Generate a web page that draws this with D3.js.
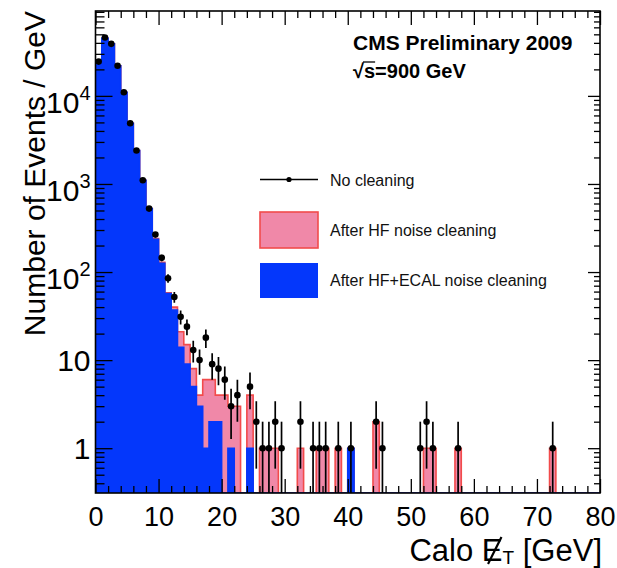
<!DOCTYPE html>
<html>
<head>
<meta charset="utf-8">
<script src="https://cdn.jsdelivr.net/npm/d3@7"></script>
<style>
  body { margin: 0; background: #fff; }
  text { font-family: "Liberation Sans", Arial, Helvetica, sans-serif; }
</style>
</head>
<body>
<div id="chart"></div>
<script>
// 1 GeV bins from 0 to 80 GeV (lower edges)
const binLow = d3.range(0, 80);

// events / GeV
const noCleaning = [
  24500, 46000, 39000, 22000, 11000, 4900, 2400, 1100, 525, 266,
  145, 85, 52, 31, 24, 13, 10, 18, 9, 8,
  6, 3, 4, 0, 5, 2, 1, 1, 2, 1,
  0, 0, 2, 0, 1, 1, 1, 0, 1, 0,
  1, 0, 0, 0, 2, 1, 0, 0, 0, 0,
  0, 1, 2, 1, 0, 0, 0, 1, 0, 0,
  0, 0, 0, 0, 0, 0, 0, 0, 0, 0,
  0, 0, 1, 0, 0, 0, 0, 0, 0, 0
];
const afterHF = [
  24500, 45000, 39000, 22000, 11000, 4900, 2400, 1100, 525, 240,
  129, 58, 40, 21, 15, 8, 4, 6, 6, 4,
  4, 3, 3, 0, 4, 0, 1, 1, 1, 0,
  0, 0, 1, 0, 0, 1, 1, 0, 1, 0,
  1, 0, 0, 0, 2, 0, 0, 0, 0, 0,
  0, 0, 1, 1, 0, 0, 0, 1, 0, 0,
  0, 0, 0, 0, 0, 0, 0, 0, 0, 0,
  0, 0, 1, 0, 0, 0, 0, 0, 0, 0
];
const afterHFECAL = [
  24500, 45000, 39000, 22000, 11000, 4900, 2400, 1100, 525, 235,
  126, 57, 37, 14, 9, 5, 3, 1, 2, 2,
  0, 1, 0, 0, 1, 0, 0, 0, 0, 0,
  0, 0, 0, 0, 0, 0, 0, 0, 0, 0,
  1, 0, 0, 0, 0, 0, 0, 0, 0, 0,
  0, 0, 0, 0, 0, 0, 0, 0, 0, 0,
  0, 0, 0, 0, 0, 0, 0, 0, 0, 0,
  0, 0, 0, 0, 0, 0, 0, 0, 0, 0
];

const xTicks = [0, 10, 20, 30, 40, 50, 60, 70, 80];
const yTicks = [1, 10, 100, 1000, 10000];
const yTickLabels = [["1", ""], ["10", ""], ["10", "2"], ["10", "3"], ["10", "4"]];

const legendItems = ["No cleaning", "After HF noise cleaning", "After HF+ECAL noise cleaning"];

// dimensions
const dim = {
  width: 504.5,
  height: 482,
  margin: { top: 11, right: 17, bottom: 75, left: 95.5 }
};
const yMin = 0.31, yMax = 92000;

const colors = {
  pink: "#f088a8",
  red: "#f24b4b",
  blue: "#0437fb"
};

const root = d3.select("#chart")
  .append("svg")
    .attr("width", dim.width + dim.margin.left + dim.margin.right)
    .attr("height", dim.height + dim.margin.top + dim.margin.bottom);

const svg = root.append("g")
  .attr("transform", `translate(${dim.margin.left}, ${dim.margin.top})`);

// scales
const xScale = d3.scaleLinear().domain([0, 80]).range([0, dim.width]);
const yScale = d3.scaleLog().domain([yMin, yMax]).range([dim.height, 0]);
const yv = v => yScale(v > 0 ? Math.max(v, yMin) : yMin);

svg.append("clipPath").attr("id", "plot-clip")
  .append("rect").attr("width", dim.width).attr("height", dim.height);

const plot = svg.append("g").attr("clip-path", "url(#plot-clip)");

// histogram steps
function steps(values) {
  const pts = binLow.map((b, i) => ({ x: b, v: values[i] }));
  pts.push({ x: 80, v: values[values.length - 1] });
  return pts;
}
const area = d3.area().curve(d3.curveStepAfter)
  .x(d => xScale(d.x)).y0(dim.height).y1(d => yv(d.v));
const outline = d3.line().curve(d3.curveStepAfter)
  .x(d => xScale(d.x)).y(d => yv(d.v));

plot.append("path").datum(steps(afterHF))
  .attr("d", area).attr("fill", colors.pink);
plot.append("path").datum(steps(afterHF))
  .attr("d", outline).attr("fill", "none")
  .attr("stroke", colors.red).attr("stroke-width", 1.6);

plot.append("path").datum(steps(afterHFECAL))
  .attr("d", area).attr("fill", colors.blue);
plot.append("path").datum(steps(afterHFECAL))
  .attr("d", outline).attr("fill", "none")
  .attr("stroke", colors.blue).attr("stroke-width", 1.6);

// data points with sqrt(N) errors
const pts = binLow.map((b, i) => ({ x: b + 0.5, v: noCleaning[i] })).filter(d => d.v > 0);

plot.append("g").selectAll("line")
  .data(pts)
  .join("line")
    .attr("x1", d => xScale(d.x)).attr("x2", d => xScale(d.x))
    .attr("y1", d => yv(d.v - Math.sqrt(d.v)))
    .attr("y2", d => yv(d.v + Math.sqrt(d.v)))
    .attr("stroke", "#000").attr("stroke-width", 1.7);

plot.append("g").selectAll("circle")
  .data(pts)
  .join("circle")
    .attr("cx", d => xScale(d.x)).attr("cy", d => yv(d.v))
    .attr("r", 3.3).attr("fill", "#000");

// axes
const minorX = d3.range(0, 81, 2).filter(d => d % 10 !== 0);
const minorY = [];
[-1, 0, 1, 2, 3, 4].forEach(p => {
  for (let m = 2; m <= 9; m++) {
    const v = m * Math.pow(10, p);
    if (v > yMin && v < yMax) minorY.push(v);
  }
});

function tidy(g) {
  g.select(".domain").remove();
  g.selectAll(".tick line").attr("stroke", "#000").attr("stroke-width", 1.3);
}

svg.append("g")
  .attr("transform", `translate(0, ${dim.height})`)
  .call(d3.axisBottom(xScale).tickValues(xTicks).tickSize(-14).tickPadding(14).tickFormat(d3.format("d")))
  .call(tidy)
  .call(g => g.selectAll("text").attr("font-size", 27).attr("fill", "#000")
    .attr("font-family", "'Liberation Sans', Arial, sans-serif"));

svg.append("g")
  .attr("transform", `translate(0, ${dim.height})`)
  .call(d3.axisBottom(xScale).tickValues(minorX).tickSize(-7).tickFormat(""))
  .call(tidy);

svg.append("g")
  .call(d3.axisTop(xScale).tickValues(xTicks).tickSize(-14).tickFormat(""))
  .call(tidy);
svg.append("g")
  .call(d3.axisTop(xScale).tickValues(minorX).tickSize(-7).tickFormat(""))
  .call(tidy);

svg.append("g")
  .call(d3.axisLeft(yScale).tickValues(yTicks).tickSize(-17).tickFormat(""))
  .call(tidy);
svg.append("g")
  .call(d3.axisLeft(yScale).tickValues(minorY).tickSize(-9).tickFormat(""))
  .call(tidy);

svg.append("g")
  .attr("transform", `translate(${dim.width}, 0)`)
  .call(d3.axisRight(yScale).tickValues(yTicks).tickSize(-12).tickFormat(""))
  .call(tidy);
svg.append("g")
  .attr("transform", `translate(${dim.width}, 0)`)
  .call(d3.axisRight(yScale).tickValues(minorY).tickSize(-6).tickFormat(""))
  .call(tidy);

// y labels with exponents
const yLab = svg.append("g").selectAll("text")
  .data(yTicks)
  .join("text")
    .attr("x", -5)
    .attr("y", (d, i) => yScale(d) + (yTickLabels[i][1] ? 17 : 11))
    .attr("text-anchor", "end")
    .attr("font-size", 30)
    .attr("fill", "#000");
yLab.append("tspan").text((d, i) => yTickLabels[i][0]);
yLab.filter((d, i) => yTickLabels[i][1] !== "")
  .append("tspan")
    .attr("dy", -13)
    .attr("font-size", 20)
    .text(d => yTickLabels[yTicks.indexOf(d)][1]);

// frame
svg.append("rect")
  .attr("width", dim.width).attr("height", dim.height)
  .attr("fill", "none").attr("stroke", "#000").attr("stroke-width", 1.6);

// axis titles
root.append("text")
  .attr("transform", "translate(45, 11) rotate(-90)")
  .attr("text-anchor", "end")
  .attr("font-size", 30)
  .text("Number of Events / GeV");

const xt = root.append("text")
  .attr("x", 602).attr("y", 560.5)
  .attr("text-anchor", "end")
  .attr("font-size", 31);
xt.append("tspan").text("Calo E");
xt.append("tspan").attr("font-size", 19).attr("dy", 3).text("T");
xt.append("tspan").attr("dy", -3).text(" [GeV]");
const e0 = xt.node().getStartPositionOfChar(5);
const e1 = xt.node().getEndPositionOfChar(5);
root.append("line")
  .attr("x1", e0.x + (e1.x - e0.x) * 0.3).attr("y1", 564)
  .attr("x2", e0.x + (e1.x - e0.x) * 0.95).attr("y2", 537)
  .attr("stroke", "#000").attr("stroke-width", 2.2);

// CMS label
root.append("text")
  .attr("x", 353).attr("y", 50)
  .attr("font-size", 21).attr("font-weight", "bold")
  .text("CMS Preliminary 2009");
const sq = root.append("text")
  .attr("x", 353).attr("y", 78)
  .attr("font-size", 20).attr("font-weight", "bold")
  .text("√s=900 GeV");
const s0 = sq.node().getStartPositionOfChar(1);
const s1 = sq.node().getEndPositionOfChar(1);
root.append("line")
  .attr("x1", s0.x - 1).attr("x2", s1.x)
  .attr("y1", 62).attr("y2", 62)
  .attr("stroke", "#000").attr("stroke-width", 1.3);

// legend
const leg = root.append("g");
leg.append("line")
  .attr("x1", 260).attr("x2", 318).attr("y1", 179.5).attr("y2", 179.5)
  .attr("stroke", "#000").attr("stroke-width", 1.6);
leg.append("circle").attr("cx", 289).attr("cy", 179.5).attr("r", 2.6).attr("fill", "#000");
leg.append("rect")
  .attr("x", 260).attr("y", 212).attr("width", 58).attr("height", 36)
  .attr("fill", colors.pink).attr("stroke", colors.red).attr("stroke-width", 1.6);
leg.append("rect")
  .attr("x", 260).attr("y", 263).attr("width", 58).attr("height", 35)
  .attr("fill", colors.blue);
leg.selectAll("text.item")
  .data(legendItems)
  .join("text")
    .attr("class", "item")
    .attr("x", 330)
    .attr("y", (d, i) => [180, 230, 280.5][i])
    .attr("dy", "0.35em")
    .attr("font-size", 16)
    .attr("fill", "#111")
    .text(d => d);
</script>
</body>
</html>
